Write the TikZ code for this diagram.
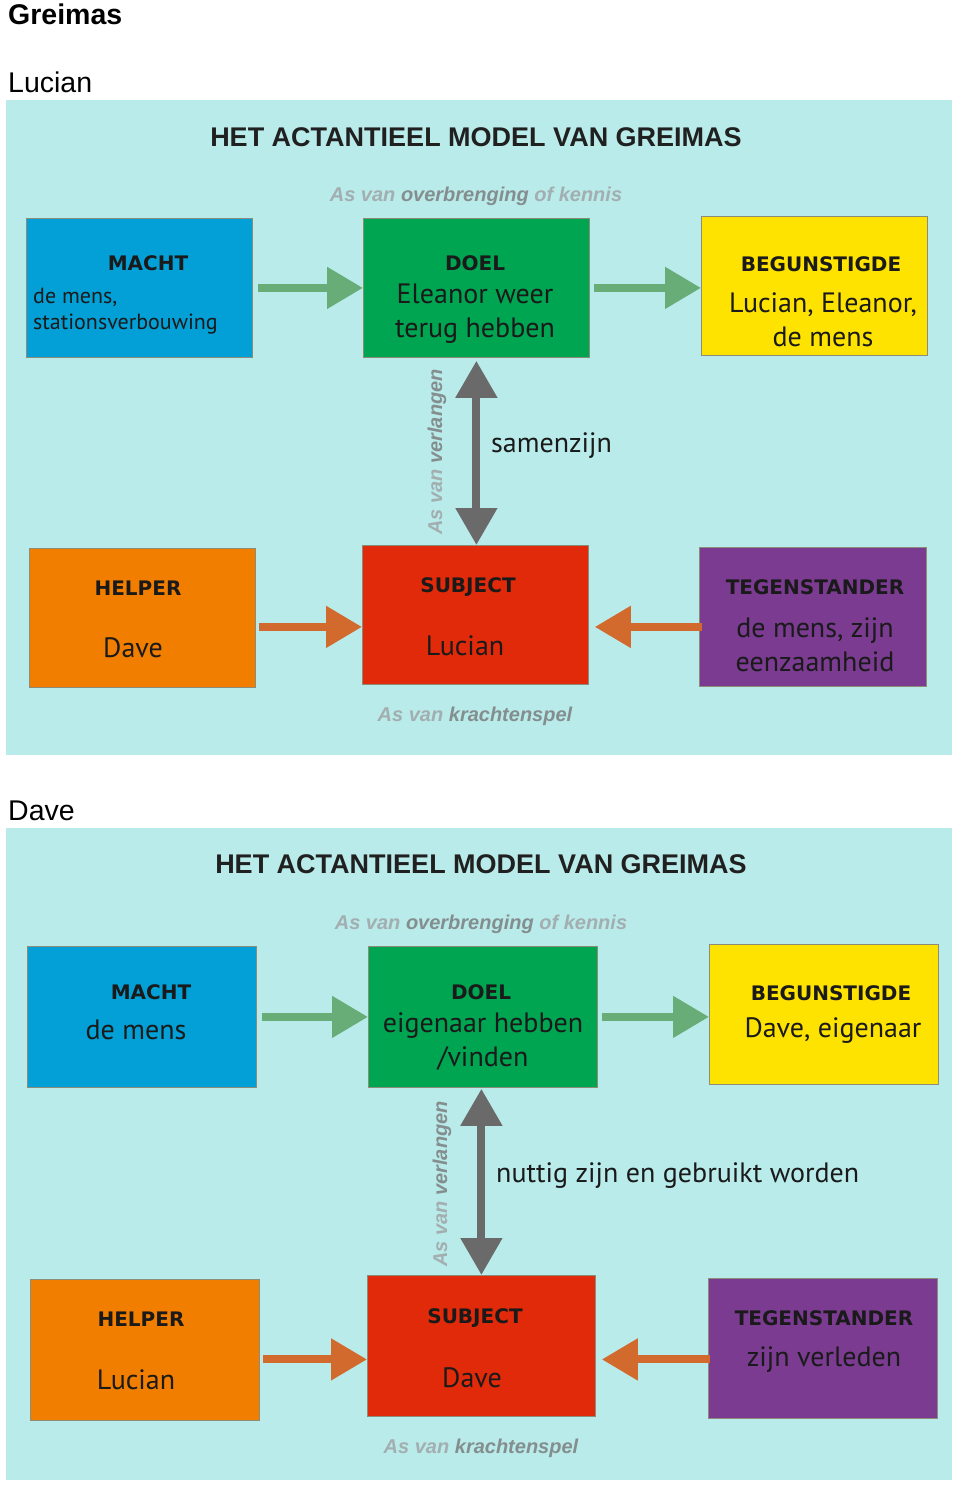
\documentclass[tikz,border=0pt]{standalone}
\usepackage{fontspec}
\setmainfont{Liberation Sans}
\newfontfamily\bodyf{PT Sans}
\newfontfamily\blackf{DejaVu Sans}
\usetikzlibrary{arrows.meta}
\definecolor{bgc}{HTML}{B9EBEA}
\definecolor{bluec}{HTML}{02A0D6}
\definecolor{greenc}{HTML}{00A551}
\definecolor{yellowc}{HTML}{FEE300}
\definecolor{orangec}{HTML}{F27E00}
\definecolor{redc}{HTML}{E02A0A}
\definecolor{purplec}{HTML}{7A3B91}
\definecolor{garc}{HTML}{68AD78}
\definecolor{oarc}{HTML}{D2692D}
\definecolor{varc}{HTML}{6A6A6A}
\definecolor{axl}{HTML}{A3AEB0}
\definecolor{axd}{HTML}{848E8E}
\definecolor{txt}{HTML}{1A1A1A}
\definecolor{titc}{HTML}{202020}
\definecolor{boxln}{HTML}{8C8C78}
\begin{document}
\begin{tikzpicture}[x=1pt,y=-1pt,
 box/.style={draw=boxln, line width=0.8pt, inner sep=0pt, anchor=north west},
 lab/.style={font=\blackf\bfseries\fontsize{20}{24}\selectfont, text=txt, inner sep=0pt},
 body/.style={font=\bodyf\fontsize{28}{34}\selectfont, text=txt, inner sep=0pt, align=center},
 small/.style={font=\bodyf\fontsize{22}{26}\selectfont, text=txt, inner sep=0pt, align=left, anchor=west},
 title/.style={font=\bfseries\fontsize{27}{32}\selectfont, text=titc, inner sep=0pt},
 axis/.style={font=\bfseries\itshape\fontsize{20}{24}\selectfont, text=axl, inner sep=0pt},
 head/.style={inner sep=0pt, anchor=west, text=black},
 gar/.style={draw=garc, line width=8pt, -{Triangle[length=36pt,width=40pt]}},
 oar/.style={draw=oarc, line width=8pt, -{Triangle[length=36pt,width=40pt]}},
 var/.style={draw=varc, line width=8pt, {Triangle[length=37pt,width=40pt]}-{Triangle[length=37pt,width=40pt]}},
]
\useasboundingbox (0,0) rectangle (960,1490);
\fill[white] (0,0) rectangle (960,1490);

% headings
\node[head, font=\bfseries\fontsize{28.5}{32}\selectfont] (hgreimas) at (8,14) {Greimas};
\node[head, font=\fontsize{28.5}{32}\selectfont] (hlucian) at (8,82) {Lucian};
\node[head, font=\fontsize{28.5}{32}\selectfont] (hdave) at (8,811) {Dave};

% ---------------- panel 1 ----------------
\fill[bgc] (6,100) rectangle (952,755);
\node[title] (title1) at (476,137) {HET ACTANTIEEL MODEL VAN GREIMAS};
\node[axis] (axtop1) at (476,196) {As van \textcolor{axd}{overbrenging} of kennis};

\node[box, fill=bluec, minimum width=226pt, minimum height=139pt] (macht1) at (26,218) {};
\node[box, fill=greenc, minimum width=226pt, minimum height=139pt] (doel1) at (363,218) {};
\node[box, fill=yellowc, minimum width=226pt, minimum height=139pt] (beg1) at (701,216) {};
\node[box, fill=orangec, minimum width=226pt, minimum height=139pt] (helper1) at (29,548) {};
\node[box, fill=redc, minimum width=226pt, minimum height=139pt] (subj1) at (362,545) {};
\node[box, fill=purplec, minimum width=227pt, minimum height=139pt] (teg1) at (699,547) {};

\node[lab] (machtl1) at (148,263) {MACHT};
\node[small] (machtt1) at (33,311) {de mens,\\stationsverbouwing};
\node[lab] (doell1) at (475,263) {DOEL};
\node[body] (doelt1) at (475,314) {Eleanor weer\\terug hebben};
\node[lab] (begl1) at (821,264) {BEGUNSTIGDE};
\node[body] (begt1) at (823,320) {Lucian, Eleanor,\\de mens};
\node[lab] (helperl1) at (138,588) {HELPER};
\node[body] (helpert1) at (133,648) {Dave};
\node[lab] (subjl1) at (468,587) {SUBJECT};
\node[body] (subjt1) at (465,646) {Lucian};
\node[lab] (tegl1) at (815,587) {TEGENSTANDER};
\node[body] (tegt1) at (815,645) {de mens, zijn\\eenzaamheid};

\draw[gar] ([xshift=5pt]macht1.east) -- (doel1.west);
\draw[gar] ([xshift=4pt]doel1.east) -- (doel1.east -| beg1.west);
\draw[oar] ([xshift=3pt,yshift=-9pt]helper1.east) -- ([yshift=-9pt]helper1.east -| subj1.west);
\draw[oar] ([xshift=3pt,yshift=-10pt]teg1.west) -- ([xshift=6pt,yshift=-10pt]teg1.west -| subj1.east);
\draw[var] ([yshift=-3pt]doel1.south) -- (doel1.south |- subj1.north);

\node[body, anchor=west] (desire1) at (491,446) {samenzijn};
\node[axis, rotate=90] (axv1) at (437,452) {As van \textcolor{axd}{verlangen}};
\node[axis] (axbot1) at (475,716) {As van \textcolor{axd}{krachtenspel}};

% ---------------- panel 2 ----------------
\fill[bgc] (6,828) rectangle (952,1480);
\node[title] (title2) at (481,864) {HET ACTANTIEEL MODEL VAN GREIMAS};
\node[axis] (axtop2) at (481,924) {As van \textcolor{axd}{overbrenging} of kennis};

\node[box, fill=bluec, minimum width=229pt, minimum height=141pt] (macht2) at (27,946) {};
\node[box, fill=greenc, minimum width=229pt, minimum height=141pt] (doel2) at (368,946) {};
\node[box, fill=yellowc, minimum width=229pt, minimum height=140pt] (beg2) at (709,944) {};
\node[box, fill=orangec, minimum width=229pt, minimum height=141pt] (helper2) at (30,1279) {};
\node[box, fill=redc, minimum width=228pt, minimum height=141pt] (subj2) at (367,1275) {};
\node[box, fill=purplec, minimum width=229pt, minimum height=140pt] (teg2) at (708,1278) {};

\node[lab] (machtl2) at (151,992) {MACHT};
\node[body] (machtt2) at (136,1030) {de mens};
\node[lab] (doell2) at (481,992) {DOEL};
\node[body] (doelt2) at (483,1042) {eigenaar hebben\\/vinden};
\node[lab] (begl2) at (831,993) {BEGUNSTIGDE};
\node[body] (begt2) at (833,1031) {Dave, eigenaar};
\node[lab] (helperl2) at (141,1319) {HELPER};
\node[body] (helpert2) at (136,1380) {Lucian};
\node[lab] (subjl2) at (475,1318) {SUBJECT};
\node[body] (subjt2) at (472,1378) {Dave};
\node[lab] (tegl2) at (824,1318) {TEGENSTANDER};
\node[body] (tegt2) at (824,1360) {zijn verleden};

\draw[gar] ([xshift=5pt]macht2.east) -- (doel2.west);
\draw[gar] ([xshift=4pt]doel2.east) -- (doel2.east -| beg2.west);
\draw[oar] ([xshift=3pt,yshift=-9.5pt]helper2.east) -- ([yshift=-9.5pt]helper2.east -| subj2.west);
\draw[oar] ([xshift=2pt,yshift=-11pt]teg2.west) -- ([xshift=6pt,yshift=-11pt]teg2.west -| subj2.east);
\draw[var] ([xshift=-1.5pt,yshift=-1pt]doel2.south) -- ([xshift=-1.5pt]doel2.south |- subj2.north);

\node[body, anchor=west] (desire2) at (496,1176) {nuttig zijn en gebruikt worden};
\node[axis, rotate=90] (axv2) at (442,1184) {As van \textcolor{axd}{verlangen}};
\node[axis] (axbot2) at (481,1448) {As van \textcolor{axd}{krachtenspel}};
\end{tikzpicture}
\end{document}
